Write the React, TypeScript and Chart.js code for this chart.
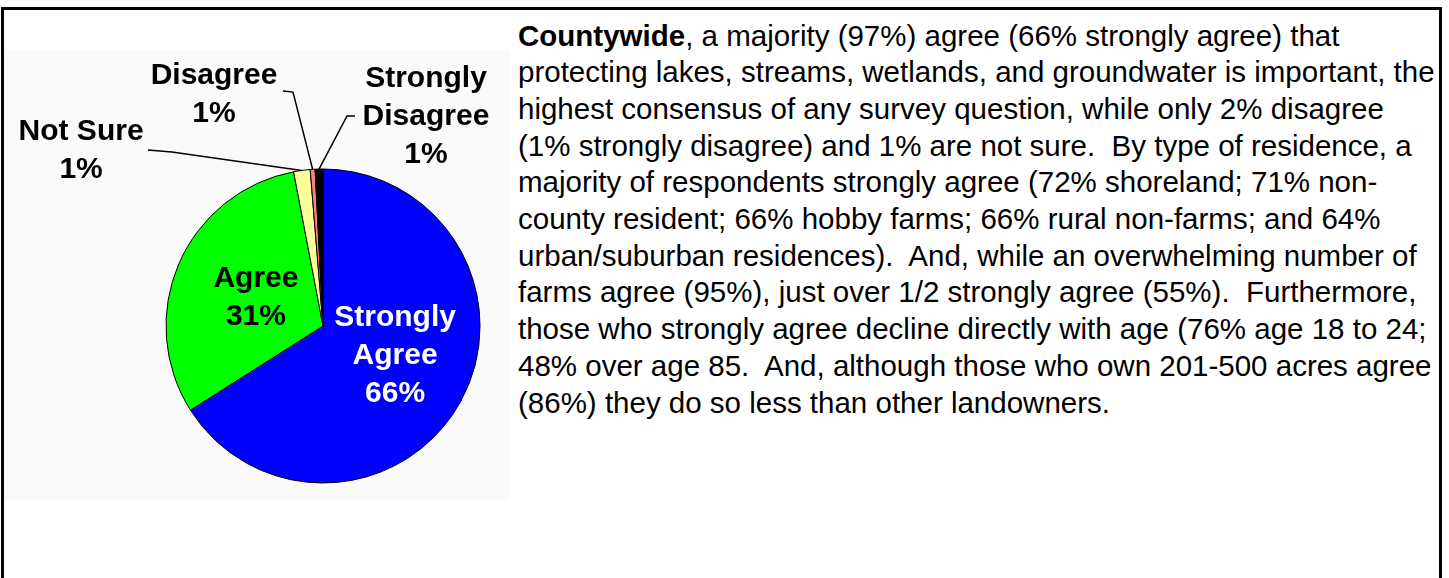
import React, { useEffect, useRef } from "react";
import { Chart, registerables } from "chart.js";

Chart.register(...registerables);

// ---------- data ----------
const categories = ["Strongly Agree", "Agree", "Not Sure", "Disagree", "Strongly Disagree"];
const values = [66, 31.0, 1.7, 0.5, 0.8];
const percentLabels = ["66%", "31%", "1%", "1%", "1%"];
const labelLines = [["Strongly", "Agree"], ["Agree"], ["Not Sure"], ["Disagree"], ["Strongly", "Disagree"]];

// ---------- styles / layout ----------
const sliceColors = ["#0000FF", "#00FF00", "#FFFF99", "#FF8080", "#000000"];
const labelColors = ["#FFFFFF", "#000000", "#000000", "#000000", "#000000"];
// label anchor relative to pie centre, in units of the radius: [centre x, first baseline y]
const labelAnchors = [
  [0.459, 0.0],
  [-0.427, -0.248],
  [-1.541, -1.185],
  [-0.694, -1.541],
  [0.656, -1.522],
];
// leader lines: [start x, start y, elbow x, elbow y] in units of the radius
const leaderLines: (number[] | null)[] = [
  null,
  null,
  [-1.115, -1.121, -0.962, -1.108],
  [-0.255, -1.497, -0.191, -1.49],
  [0.204, -1.338, 0.153, -1.338],
];

const textLines: { bold?: string; rest: string }[] = [
  { bold: "Countywide", rest: ", a majority (97%) agree (66% strongly agree) that" },
  { rest: "protecting lakes, streams, wetlands, and groundwater is important, the" },
  { rest: "highest consensus of any survey question, while only 2% disagree" },
  { rest: "(1% strongly disagree) and 1% are not sure.  By type of residence, a" },
  { rest: "majority of respondents strongly agree (72% shoreland; 71% non-" },
  { rest: "county resident; 66% hobby farms; 66% rural non-farms; and 64%" },
  { rest: "urban/suburban residences).  And, while an overwhelming number of" },
  { rest: "farms agree (95%), just over 1/2 strongly agree (55%).  Furthermore," },
  { rest: "those who strongly agree decline directly with age (76% age 18 to 24;" },
  { rest: "48% over age 85.  And, although those who own 201-500 acres agree" },
  { rest: "(86%) they do so less than other landowners." },
];

const FONT = "'Liberation Sans', Arial, Helvetica, sans-serif";

const bgPlugin = {
  id: "bgFill",
  beforeDraw(chart: any) {
    const { ctx, width, height } = chart;
    ctx.save();
    ctx.fillStyle = "#fafafa";
    ctx.fillRect(0, 0, width, height);
    ctx.restore();
  },
};

const labelPlugin = {
  id: "pieLabels",
  afterDatasetsDraw(chart: any) {
    const { ctx } = chart;
    const meta = chart.getDatasetMeta(0);
    ctx.save();
    meta.data.forEach((arc: any, i: number) => {
      const p = arc.getProps(["x", "y", "startAngle", "endAngle", "outerRadius"], true);
      const R = p.outerRadius;
      const ll = leaderLines[i];
      if (ll) {
        const mid = (p.startAngle + p.endAngle) / 2;
        const ex = p.x + Math.cos(mid) * R;
        const ey = p.y + Math.sin(mid) * R;
        ctx.beginPath();
        ctx.strokeStyle = "#000";
        ctx.lineWidth = 1.5;
        ctx.moveTo(p.x + ll[0] * R, p.y + ll[1] * R);
        ctx.lineTo(p.x + ll[2] * R, p.y + ll[3] * R);
        ctx.lineTo(ex, ey);
        ctx.stroke();
      }
      const lines = [...labelLines[i], percentLabels[i]];
      const ax = p.x + labelAnchors[i][0] * R;
      const ay = p.y + labelAnchors[i][1] * R;
      ctx.font = `bold 30px ${FONT}`;
      ctx.fillStyle = labelColors[i];
      ctx.textAlign = "center";
      ctx.textBaseline = "alphabetic";
      lines.forEach((t, k) => ctx.fillText(t, ax, ay + k * 37.8));
    });
    ctx.restore();
  },
};

function PieChart() {
  const ref = useRef<HTMLCanvasElement | null>(null);
  useEffect(() => {
    if (!ref.current) return;
    const chart = new Chart(ref.current, {
      type: "pie",
      data: {
        labels: categories,
        datasets: [
          {
            data: values,
            backgroundColor: sliceColors,
            borderColor: "#000000",
            borderWidth: 1,
          },
        ],
      },
      options: {
        animation: false,
        responsive: false,
        maintainAspectRatio: false,
        layout: { padding: { left: 161.5, top: 118.5, right: 29.5, bottom: 16.5 } },
        plugins: {
          legend: { display: false },
          tooltip: { enabled: false },
        },
      },
      plugins: [bgPlugin, labelPlugin],
    } as any);
    return () => chart.destroy();
  }, []);
  return <canvas ref={ref} width={506} height={450} style={{ width: 506, height: 450, display: "block" }} />;
}

export default function App() {
  return (
    <div
      style={{
        position: "absolute",
        left: 0,
        top: 0,
        width: 1449,
        height: 578,
        overflow: "hidden",
        background: "#ffffff",
      }}
    >
      <div
        style={{
          position: "absolute",
          left: 1,
          top: 7,
          width: 1441,
          height: 700,
          border: "3px solid #000",
          boxSizing: "border-box",
        }}
      />
      <div style={{ position: "absolute", left: 4, top: 50 }}>
        <PieChart />
      </div>
      <div
        style={{
          position: "absolute",
          left: 518,
          top: 17.5,
          fontFamily: FONT,
          fontSize: 29.5,
          lineHeight: "36.7px",
          color: "#000",
        }}
      >
        {textLines.map((l, i) => (
          <div key={i} style={{ whiteSpace: "pre" }}>
            {l.bold ? <b>{l.bold}</b> : null}
            {l.rest}
          </div>
        ))}
      </div>
    </div>
  );
}
